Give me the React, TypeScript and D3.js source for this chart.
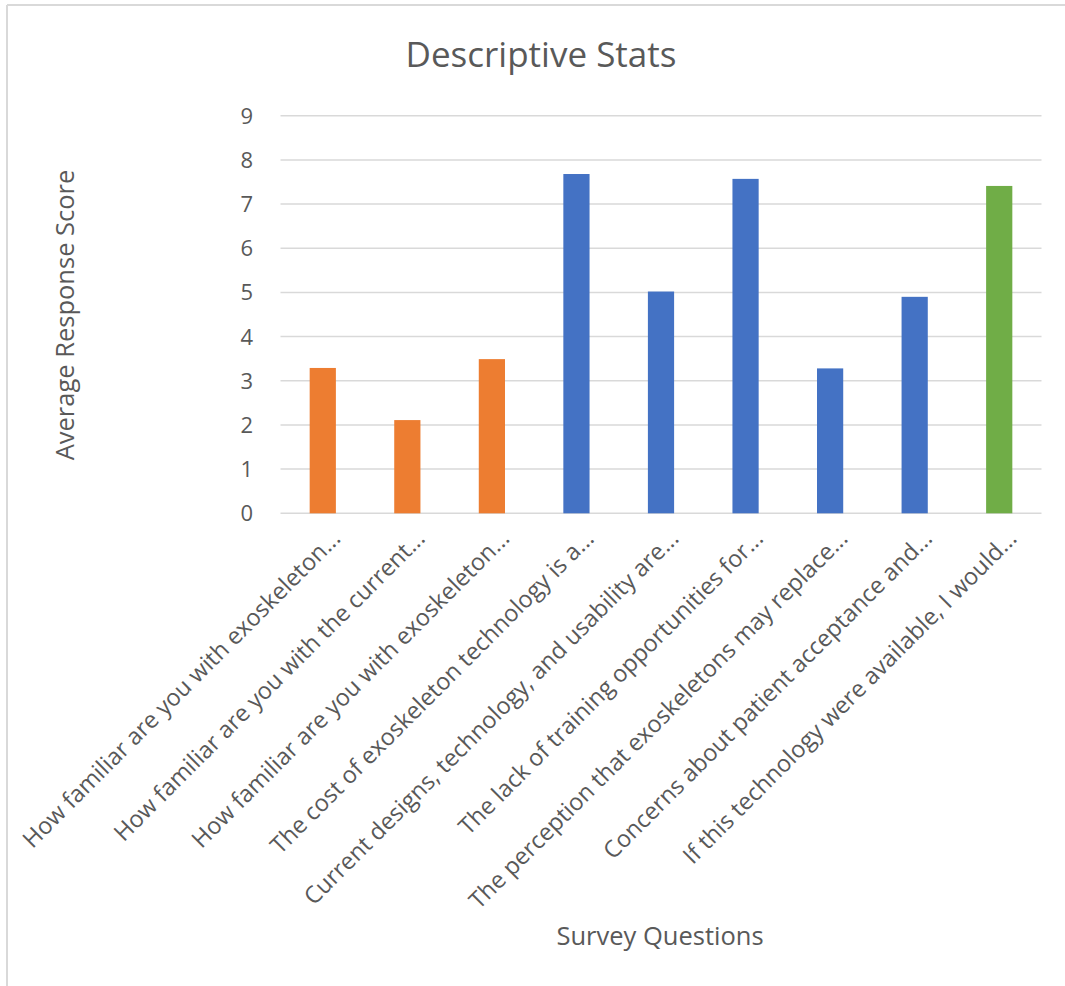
import React from "react";
import * as d3 from "d3";

const categories: string[] = [
  "How familiar are you with exoskeleton...",
  "How familiar are you with the current...",
  "How familiar are you with exoskeleton...",
  "The cost of exoskeleton technology is a...",
  "Current designs, technology, and usability are...",
  "The lack of training opportunities for...",
  "The perception that exoskeletons may replace...",
  "Concerns about patient acceptance and...",
  "If this technology were available, I would...",
];
const values: number[] = [3.29, 2.11, 3.49, 7.68, 5.02, 7.57, 3.28, 4.9, 7.41];
const groups: string[] = ["familiarity", "familiarity", "familiarity", "barrier", "barrier", "barrier", "barrier", "barrier", "intent"];
const yTicks: number[] = [0, 1, 2, 3, 4, 5, 6, 7, 8, 9];

const colorOf: Record<string, string> = {
  familiarity: "#ED7D31",
  barrier: "#4472C4",
  intent: "#70AD47",
};

const W = 1065;
const H = 986;
const FONT = "'Open Sans', 'Noto Sans', sans-serif";
const TEXT = "#595959";

export default function App() {
  const x = d3
    .scaleBand<number>()
    .domain(d3.range(categories.length))
    .range([280.5, 1041.5])
    .paddingInner(0.69)
    .paddingOuter(0.345);
  const y = d3.scaleLinear().domain([0, 9]).range([513.3, 115.7]);

  return (
    <svg
      width={W}
      height={H}
      style={{ position: "absolute", left: 0, top: 0, background: "#fff" }}
      fontFamily={FONT}
    >
      <rect x={0} y={0} width={W} height={H} fill="#fff" />
      {/* chart border */}
      <line x1={7} y1={5} x2={W} y2={5} stroke="#d9d9d9" strokeWidth={2} />
      <line x1={7} y1={5} x2={7} y2={H} stroke="#d9d9d9" strokeWidth={2} />

      {/* title */}
      <text x={541} y={67} textAnchor="middle" fontSize={35} fill={TEXT}>
        Descriptive Stats
      </text>

      {/* gridlines and y tick labels */}
      {yTicks.map((t) => (
        <g key={t}>
          <line
            x1={280.5}
            x2={1041.5}
            y1={y(t)}
            y2={y(t)}
            stroke="#d9d9d9"
            strokeWidth={1.5}
          />
          <text
            x={253}
            y={y(t)}
            dy="0.36em"
            textAnchor="end"
            fontSize={22}
            fill={TEXT}
          >
            {t}
          </text>
        </g>
      ))}

      {/* bars */}
      {values.map((v, i) => (
        <rect
          key={i}
          x={x(i)}
          y={y(v)}
          width={x.bandwidth()}
          height={y(0) - y(v)}
          fill={colorOf[groups[i]]}
        />
      ))}

      {/* category labels */}
      {categories.map((c, i) => {
        const cx = (x(i) as number) + x.bandwidth() / 2;
        return (
          <text
            key={i}
            transform={`translate(${cx + 19},${540}) rotate(-45)`}
            textAnchor="end"
            fontSize={23.5}
            fill={TEXT}
          >
            {c}
          </text>
        );
      })}

      {/* axis titles */}
      <text
        transform={`translate(${74},${315}) rotate(-90)`}
        textAnchor="middle"
        fontSize={25.5}
        fill={TEXT}
      >
        Average Response Score
      </text>
      <text x={660} y={945} textAnchor="middle" fontSize={25.5} fill={TEXT}>
        Survey Questions
      </text>
    </svg>
  );
}
